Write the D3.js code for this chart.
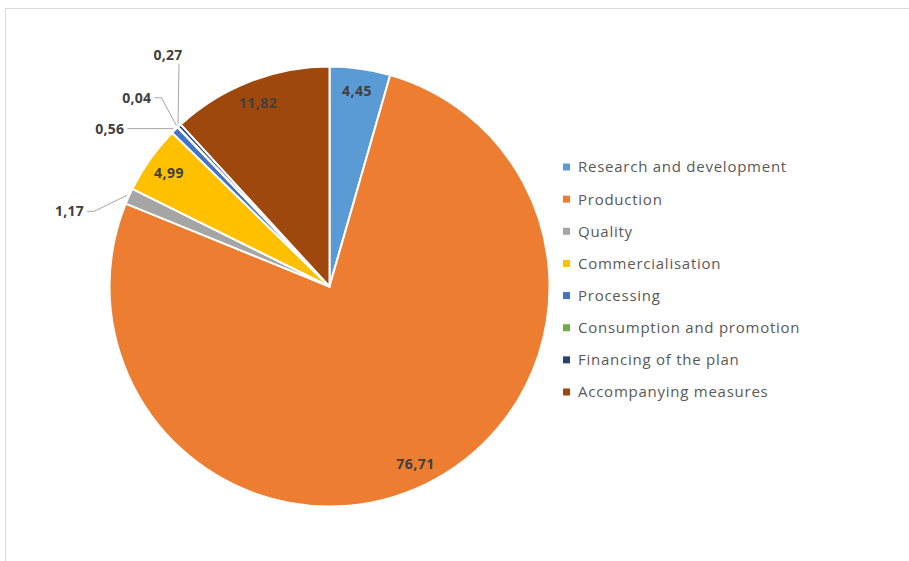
<!DOCTYPE html>
<html>
<head>
<meta charset="utf-8">
<script src="https://cdn.jsdelivr.net/npm/d3@7"></script>
<style>
  body { margin: 0; background: #fff; }
  text { font-family: "Open Sans", sans-serif; }
</style>
</head>
<body>
<svg id="chart" width="909" height="561"></svg>
<script>
// chart data
var categories = ["Research and development", "Production", "Quality", "Commercialisation",
                  "Processing", "Consumption and promotion", "Financing of the plan", "Accompanying measures"];
var values = [4.45, 76.71, 1.17, 4.99, 0.56, 0.04, 0.27, 11.82];
var colors = ["#5B9BD5", "#ED7D31", "#A5A5A5", "#FFC000", "#4472C4", "#70AD47", "#264478", "#9E480E"];

// which labels sit outside with a leader line, and how the line bends (offsets from the slice edge)
var outside = {
  2: { elbow: [-33, 16], end: [-40, 16], anchor: "end" },
  4: { elbow: [-46, 0], end: [-46, 0], anchor: "end" },
  5: { elbow: [-15, -28], end: [-22, -28], anchor: "end" },
  6: { elbow: [1, -60], end: [1, -60], anchor: "middle", above: true }
};

var svg = d3.select("#chart");
var cx = 329.5, cy = 286.5, radius = 220;

// chart area border (only top and left show in the frame)
svg.append("rect")
  .attr("x", 5.5).attr("y", 8.5)
  .attr("width", 1000).attr("height", 1000)
  .attr("fill", "none")
  .attr("stroke", "#d9d9d9");

var pie = d3.pie().sort(null).value(function(d) { return d; });
var arcs = pie(values);
var arc = d3.arc().innerRadius(0).outerRadius(radius);
var labelArc = d3.arc().innerRadius(radius * 0.895).outerRadius(radius * 0.895);
var edgeArc = d3.arc().innerRadius(radius + 2).outerRadius(radius + 2);

var g = svg.append("g").attr("transform", "translate(" + cx + "," + cy + ")");

g.selectAll("path.slice")
  .data(arcs)
  .enter().append("path")
  .attr("class", "slice")
  .attr("d", arc)
  .attr("fill", function(d, i) { return colors[i]; })
  .attr("stroke", "#fff")
  .attr("stroke-width", 2)
  .attr("stroke-linejoin", "round");

function fmt(v) { return v.toFixed(2).replace(".", ","); }

// inside labels
g.selectAll("text.inlabel")
  .data(arcs.filter(function(d, i) { return !outside[i]; }))
  .enter().append("text")
  .attr("class", "inlabel")
  .attr("transform", function(d) { return "translate(" + labelArc.centroid(d) + ")"; })
  .attr("text-anchor", "middle")
  .attr("dy", "0.35em")
  .attr("font-size", 14)
  .attr("letter-spacing", 0.5)
  .attr("font-weight", "bold")
  .attr("fill", "#404040")
  .text(function(d) { return fmt(d.value); });

// outside labels with leader lines
arcs.forEach(function(d, i) {
  var o = outside[i];
  if (!o) return;
  var p = edgeArc.centroid(d);
  var e = [p[0] + o.elbow[0], p[1] + o.elbow[1]];
  var t = [p[0] + o.end[0], p[1] + o.end[1]];
  g.append("path")
    .attr("d", d3.line()([p, e, t]))
    .attr("fill", "none")
    .attr("stroke", "#a6a6a6")
    .attr("stroke-width", 1);
  g.append("text")
    .attr("x", o.above ? t[0] - 11 : t[0] - 3)
    .attr("y", o.above ? t[1] - 4 : t[1])
    .attr("dy", o.above ? 0 : "0.35em")
    .attr("text-anchor", o.anchor)
    .attr("font-size", 14)
    .attr("letter-spacing", 0.3)
    .attr("font-weight", "bold")
    .attr("fill", "#404040")
    .text(fmt(d.value));
});

// legend
var legendY = d3.scalePoint().domain(d3.range(categories.length)).range([167, 392]);
var legend = svg.append("g").selectAll("g")
  .data(categories)
  .enter().append("g")
  .attr("transform", function(d, i) { return "translate(563," + legendY(i) + ")"; });

legend.append("rect")
  .attr("x", 0).attr("y", -3.5)
  .attr("width", 7).attr("height", 7)
  .attr("fill", function(d, i) { return colors[i]; });

legend.append("text")
  .attr("x", 15)
  .attr("dy", "0.36em")
  .attr("font-size", 15)
  .attr("letter-spacing", 0.75)
  .attr("fill", "#595959")
  .text(function(d) { return d; });
</script>
</body>
</html>
